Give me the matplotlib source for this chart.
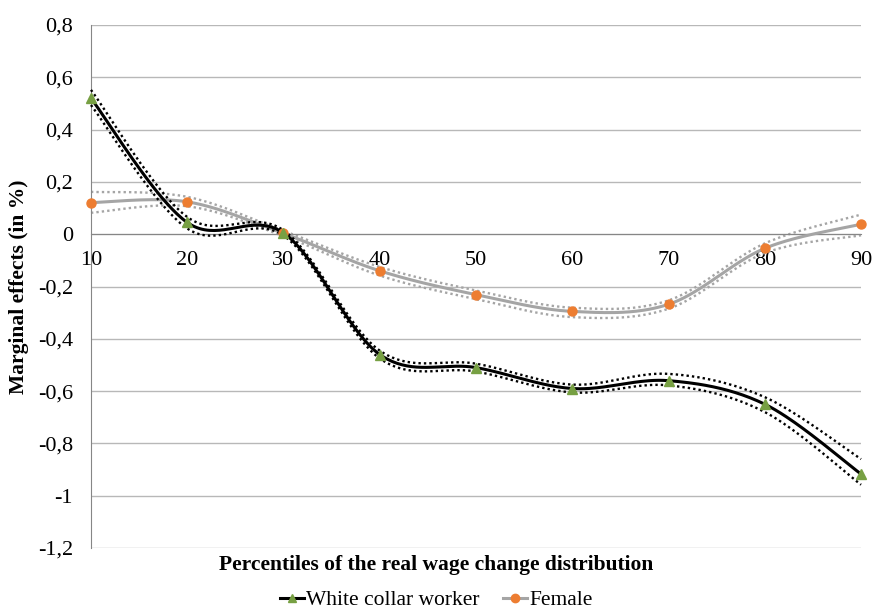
import numpy as np
import matplotlib
matplotlib.use("Agg")
import matplotlib.pyplot as plt
from matplotlib.lines import Line2D

plt.rcParams['font.family'] = ['Liberation Serif', 'DejaVu Serif']

# percentiles of the real wage change distribution
percentiles = [10, 20, 30, 40, 50, 60, 70, 80, 90]

# marginal effects
white_collar = [0.52, 0.045, 0.005, -0.46, -0.51, -0.59, -0.56, -0.65, -0.917]
white_upper = [0.552, 0.066, 0.015, -0.445, -0.495, -0.575, -0.534, -0.623, -0.86]
white_lower = [0.494, 0.022, -0.005, -0.475, -0.525, -0.605, -0.578, -0.68, -0.958]

female = [0.121, 0.124, 0.003, -0.14, -0.231, -0.295, -0.268, -0.054, 0.038]
female_upper = [0.162, 0.143, 0.013, -0.125, -0.215, -0.281, -0.253, -0.035, 0.075]
female_lower = [0.082, 0.107, -0.007, -0.158, -0.248, -0.317, -0.285, -0.072, -0.004]

yticks = [-1.2, -1.0, -0.8, -0.6, -0.4, -0.2, 0.0, 0.2, 0.4, 0.6, 0.8]


def smooth(xs, ys, n=40):
    # excel style smoothed line (catmull-rom bezier)
    pts = np.column_stack([xs, ys]).astype(float)
    out = []
    for i in range(len(pts) - 1):
        p0, p3 = pts[i], pts[i + 1]
        pm = pts[i - 1] if i > 0 else pts[i]
        pp = pts[i + 2] if i + 2 < len(pts) else pts[i + 1]
        c1 = p0 + (p3 - pm) / 6
        c2 = p3 - (pp - p0) / 6
        t = np.linspace(0, 1, n)[:, None]
        seg = (1 - t)**3 * p0 + 3 * (1 - t)**2 * t * c1 + 3 * (1 - t) * t**2 * c2 + t**3 * p3
        out.append(seg if i == 0 else seg[1:])
    s = np.vstack(out)
    return s[:, 0], s[:, 1]


fig = plt.figure(figsize=(8.73, 6.15), dpi=100)
ax = fig.add_axes([0.1042, 0.1089, 0.8821, 0.8504])

# spine position first, it resets the ticks
for s in ('top', 'right'):
    ax.spines[s].set_visible(False)
ax.spines['left'].set_color('#868686')
ax.spines['bottom'].set_position(('data', 0))
ax.spines['bottom'].set_color('#868686')

grid_c = '#b8b8b8'
for y in yticks:
    ax.axhline(y, color=grid_c, lw=1, zorder=0)

dots = (0, (1, 1.3))
gray = '#a5a5a5'

# female series
for band in (female_upper, female_lower):
    bx, by = smooth(percentiles, band)
    ax.plot(bx, by, color=gray, lw=1.7, ls=dots, zorder=2, clip_on=False)
sx, sy = smooth(percentiles, female)
ax.plot(sx, sy, color=gray, lw=2.2, zorder=3, clip_on=False)
ax.plot(percentiles, female, 'o', color='#ed7d31', ms=6.5, mec='#ed7d31', zorder=6, clip_on=False)

# white collar series
for band in (white_upper, white_lower):
    bx, by = smooth(percentiles, band)
    ax.plot(bx, by, color='black', lw=1.7, ls=dots, zorder=4, clip_on=False)
sx, sy = smooth(percentiles, white_collar)
ax.plot(sx, sy, color='black', lw=2.2, zorder=5, clip_on=False)
ax.plot(percentiles, white_collar, '^', color='#77a043', ms=6.5, mec='#77a043', zorder=7, clip_on=False)

ax.set_xlim(10, 90)
ax.set_ylim(-1.2, 0.8)
ax.set_yticks(yticks)
ax.set_yticklabels([('%g' % v).replace('.', ',') if v != 0 else '0' for v in yticks])
ax.set_xticks(percentiles)
ax.set_xticklabels([str(p) for p in percentiles])
ax.tick_params(axis='y', length=0, pad=13, labelsize=16)
ax.tick_params(axis='x', length=0, pad=12, labelsize=16)

ax.set_ylabel('Marginal effects (in %)', fontsize=15.5, fontweight='bold', labelpad=6)
fig.text(0.5, 0.081, 'Percentiles of the real wage change distribution', ha='center', va='center',
         fontsize=15.5, fontweight='bold')

handles = [
    Line2D([], [], color='black', lw=2.2, marker='^', mfc='#77a043', mec='#77a043', ms=6),
    Line2D([], [], color=gray, lw=2.2, marker='o', mfc='#ed7d31', mec='#ed7d31', ms=6),
]
fig.legend(handles, ['White collar worker', 'Female'], loc='center', bbox_to_anchor=(0.5, 0.024),
           ncol=2, frameon=False, fontsize=15.5, handlelength=1.1, handletextpad=0.1, columnspacing=1.1)

fig.savefig('out.png', dpi=100)
